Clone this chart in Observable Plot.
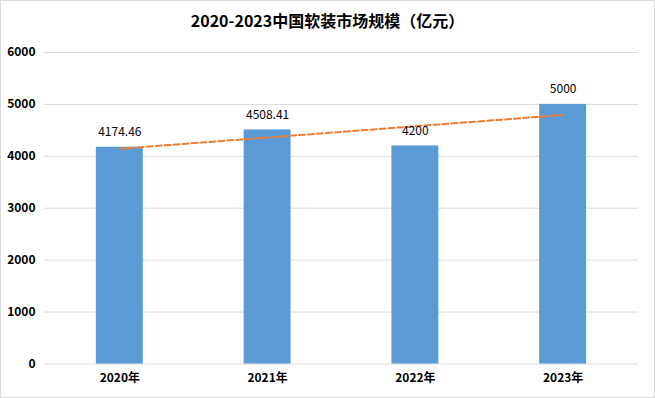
<!DOCTYPE html>
<html><head><meta charset="utf-8">
<script src="https://cdn.jsdelivr.net/npm/d3@7"></script>
<script src="https://cdn.jsdelivr.net/npm/@observablehq/plot@0.6"></script>
<style>
html,body{margin:0;padding:0;background:#fff;}
#wrap{width:655px;height:398px;box-sizing:border-box;border:1px solid #d9d9d9;position:relative;overflow:hidden;font-family:"Noto Sans CJK SC","Noto Sans",sans-serif;}
#title{position:absolute;left:0;top:0;width:100%;height:38px;line-height:38px;text-align:center;font-weight:bold;font-size:16px;color:#000;}
#chart{position:absolute;left:-1px;top:37px;}
</style></head>
<body>
<div id="wrap"><div id="title">2020-2023中国软装市场规模（亿元）</div><div id="chart"></div></div>
<script>
const years = ["2020年","2021年","2022年","2023年"];
const values = [4174.46, 4508.41, 4200, 5000];
const labels = ["4174.46","4508.41","4200","5000"];
const yTicks = [0,1000,2000,3000,4000,5000,6000];

const data = years.map((y,i)=>({year:y, value:values[i], label:labels[i]}));
// linear trend line (least squares over category index)
const mx = d3.mean(values.map((_,i)=>i+1));
const my = d3.mean(values);
const slope = d3.sum(values.map((v,i)=>(i+1-mx)*(v-my))) / d3.sum(values.map((_,i)=>(i+1-mx)**2));
const trend = years.map((y,i)=>({year:y, value: my + slope*(i+1-mx)}));

const chart = Plot.plot({
  width:655, height:360,
  marginTop:14, marginBottom:34, marginLeft:44, marginRight:16,
  style:{fontFamily:'"Noto Sans CJK SC","Noto Sans",sans-serif', fontSize:"12px", color:"#000", background:"transparent"},
  x:{domain:years, paddingInner:0.685, paddingOuter:0.3425, label:null},
  y:{domain:[0,6000], ticks:yTicks, label:null},
  marks:[
    Plot.gridY(yTicks.filter(t=>t>0), {stroke:"#d9d9d9", strokeOpacity:1}),
    Plot.ruleY([0], {stroke:"#d9d9d9"}),
    Plot.barY(data, {x:"year", y:"value", fill:"#5B9BD5"}),
    Plot.line(trend, {x:"year", y:"value", stroke:"#ED7D31", strokeWidth:2, strokeDasharray:"6,3"}),
    Plot.text(data, {x:"year", y:"value", text:"label", dy:-15, fill:"#000", fontSize:12}),
    Plot.axisY({ticks:yTicks, tickFormat:"d", tickSize:0, tickPadding:9, fontWeight:"bold", fontSize:12, label:null}),
    Plot.axisX({tickSize:0, tickPadding:10, fontWeight:"bold", fontSize:12, label:null})
  ]
});
document.getElementById("chart").appendChild(chart);
</script>
</body></html>
